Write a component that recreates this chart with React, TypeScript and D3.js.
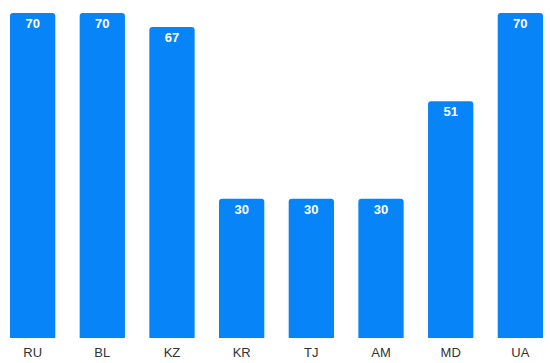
import React, { useEffect, useRef } from 'react';
import * as d3 from 'd3';

const countries = ['RU', 'BL', 'KZ', 'KR', 'TJ', 'AM', 'MD', 'UA'];
const values = [70, 70, 67, 30, 30, 30, 51, 70];

const width = 550;
const height = 363;

export default function App() {
  const svgRef = useRef<SVGSVGElement>(null);

  useEffect(() => {
    if (!svgRef.current) return;
    const svg = d3.select(svgRef.current);
    svg.selectAll('*').remove();

    const data = countries.map((c, i) => ({ c, v: values[i] }));

    const x = d3.scaleBand<string>()
      .domain(countries)
      .range([10, 543])
      .paddingInner(0.35)
      .paddingOuter(0);

    const y = d3.scaleLinear()
      .domain([0, 70])
      .range([338, 13]);

    const r = 3;
    const barPath = (x0: number, y0: number, w: number, y1: number) => {
      return `M${x0},${y1}V${y0 + r}Q${x0},${y0} ${x0 + r},${y0}H${x0 + w - r}Q${x0 + w},${y0} ${x0 + w},${y0 + r}V${y1}Z`;
    };

    svg.append('g')
      .selectAll('path')
      .data(data)
      .enter()
      .append('path')
      .attr('d', d => barPath(x(d.c) || 0, y(d.v), x.bandwidth(), y(0)))
      .attr('fill', '#0784f8');

    // value labels inside bar tops
    svg.append('g')
      .selectAll('text')
      .data(data)
      .enter()
      .append('text')
      .attr('x', d => (x(d.c) || 0) + x.bandwidth() / 2)
      .attr('y', d => y(d.v) + 15)
      .attr('text-anchor', 'middle')
      .style('font-family', 'Liberation Sans, Arial, sans-serif')
      .style('font-size', '13px')
      .style('font-weight', 'bold')
      .style('fill', '#fff')
      .text(d => d.v);

    // category labels
    svg.append('g')
      .selectAll('text')
      .data(data)
      .enter()
      .append('text')
      .attr('x', d => (x(d.c) || 0) + x.bandwidth() / 2)
      .attr('y', 357)
      .attr('text-anchor', 'middle')
      .style('font-family', 'Liberation Sans, Arial, sans-serif')
      .style('font-size', '13px')
      .style('fill', '#333')
      .text(d => d.c);
  }, []);

  return (
    <svg
      ref={svgRef}
      width={width}
      height={height}
      style={{ position: 'absolute', left: 0, top: 0, background: '#fff' }}
    />
  );
}
